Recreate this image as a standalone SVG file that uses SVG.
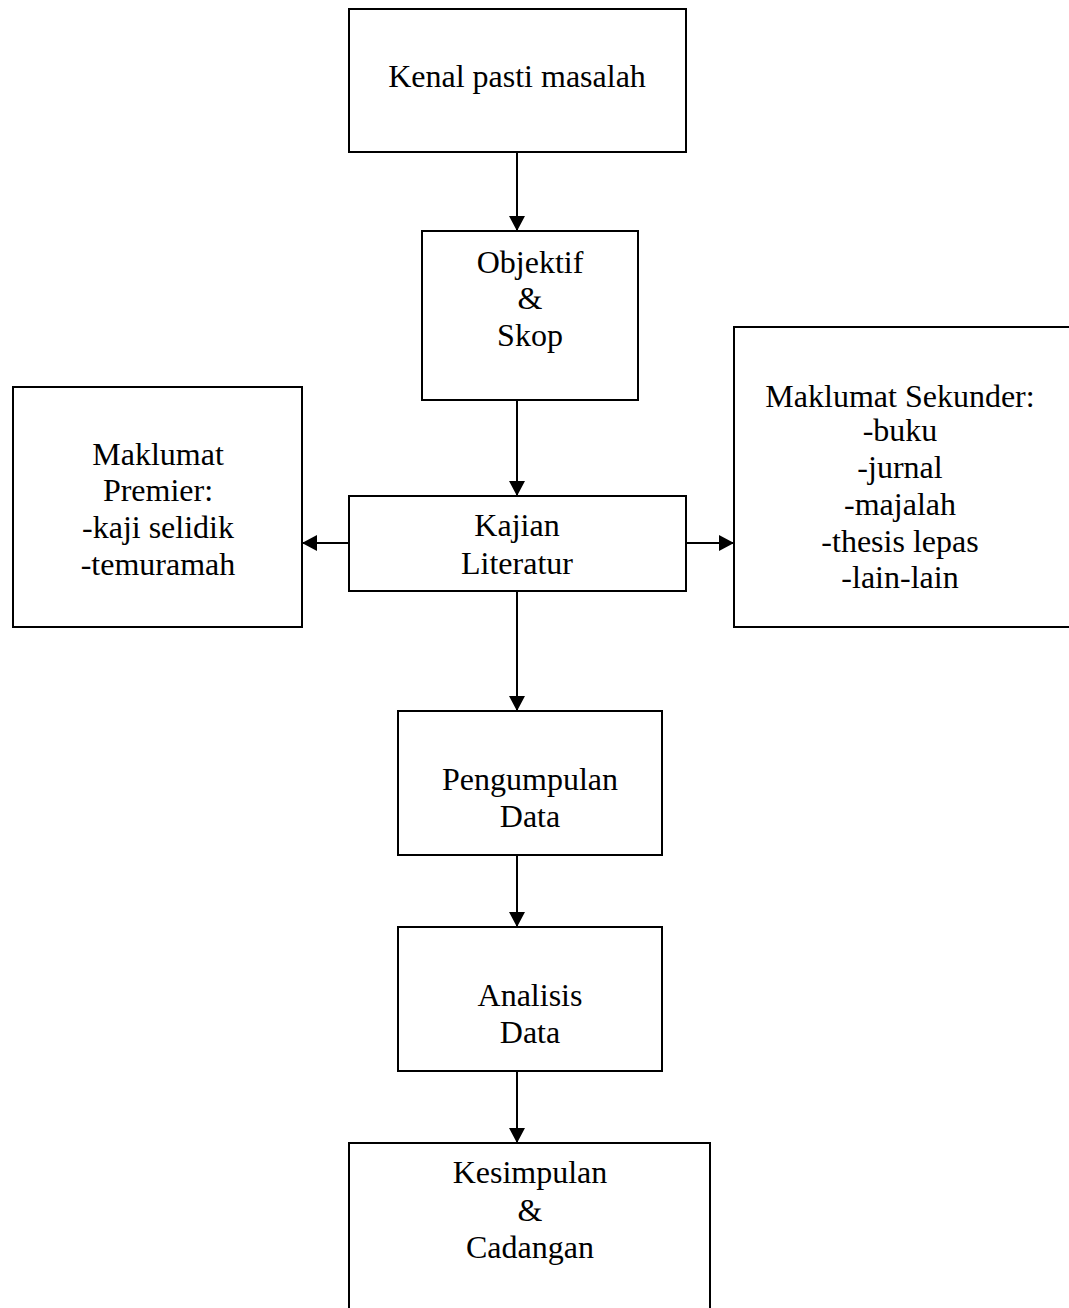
<svg xmlns="http://www.w3.org/2000/svg" width="1069" height="1308" viewBox="0 0 1069 1308">
<style>
.box{fill:#fff;stroke:#000;stroke-width:2}
.t{font-family:"Liberation Serif","Times New Roman",serif;font-size:32px;fill:#000;text-anchor:middle}
.c{stroke:#000;stroke-width:2;fill:none}
</style>
<defs>
<marker id="ah" viewBox="0 0 10 10" refX="10" refY="5" markerWidth="7.5" markerHeight="8" markerUnits="strokeWidth" orient="auto" preserveAspectRatio="none">
<path d="M0,0 L10,5 L0,10 z" fill="#000"/>
</marker>
</defs>
<rect width="1069" height="1308" fill="#fff"/>
<g id="connectors">
<line class="c" x1="517" y1="152" x2="517" y2="231" marker-end="url(#ah)"/>
<line class="c" x1="517" y1="400" x2="517" y2="496" marker-end="url(#ah)"/>
<line class="c" x1="349" y1="543" x2="302" y2="543" marker-end="url(#ah)"/>
<line class="c" x1="686" y1="543" x2="734" y2="543" marker-end="url(#ah)"/>
<line class="c" x1="517" y1="591" x2="517" y2="711" marker-end="url(#ah)"/>
<line class="c" x1="517" y1="855" x2="517" y2="927" marker-end="url(#ah)"/>
<line class="c" x1="517" y1="1071" x2="517" y2="1143" marker-end="url(#ah)"/>
</g>
<g id="kenal">
<rect class="box" x="349" y="9" width="337" height="143"/>
<text class="t" x="517" y="87">Kenal pasti masalah</text>
</g>
<g id="objektif">
<rect class="box" x="422" y="231" width="216" height="169"/>
<text class="t" x="530" y="273">Objektif</text>
<text class="t" x="530" y="309">&amp;</text>
<text class="t" x="530" y="346">Skop</text>
</g>
<g id="premier">
<rect class="box" x="13" y="387" width="289" height="240"/>
<text class="t" x="158" y="465">Maklumat</text>
<text class="t" x="158" y="501">Premier:</text>
<text class="t" x="158" y="538">-kaji selidik</text>
<text class="t" x="158" y="575">-temuramah</text>
</g>
<g id="kajian">
<rect class="box" x="349" y="496" width="337" height="95"/>
<text class="t" x="517" y="536">Kajian</text>
<text class="t" x="517" y="574">Literatur</text>
</g>
<g id="sekunder">
<rect class="box" x="734" y="327" width="345" height="300"/>
<text class="t" x="900" y="407">Maklumat Sekunder:</text>
<text class="t" x="900" y="441">-buku</text>
<text class="t" x="900" y="478">-jurnal</text>
<text class="t" x="900" y="515">-majalah</text>
<text class="t" x="900" y="552">-thesis lepas</text>
<text class="t" x="900" y="588">-lain-lain</text>
</g>
<g id="pengumpulan">
<rect class="box" x="398" y="711" width="264" height="144"/>
<text class="t" x="530" y="790">Pengumpulan</text>
<text class="t" x="530" y="827">Data</text>
</g>
<g id="analisis">
<rect class="box" x="398" y="927" width="264" height="144"/>
<text class="t" x="530" y="1006">Analisis</text>
<text class="t" x="530" y="1043">Data</text>
</g>
<g id="kesimpulan">
<rect class="box" x="349" y="1143" width="361" height="180"/>
<text class="t" x="530" y="1183">Kesimpulan</text>
<text class="t" x="530" y="1221">&amp;</text>
<text class="t" x="530" y="1258">Cadangan</text>
</g>
</svg>
